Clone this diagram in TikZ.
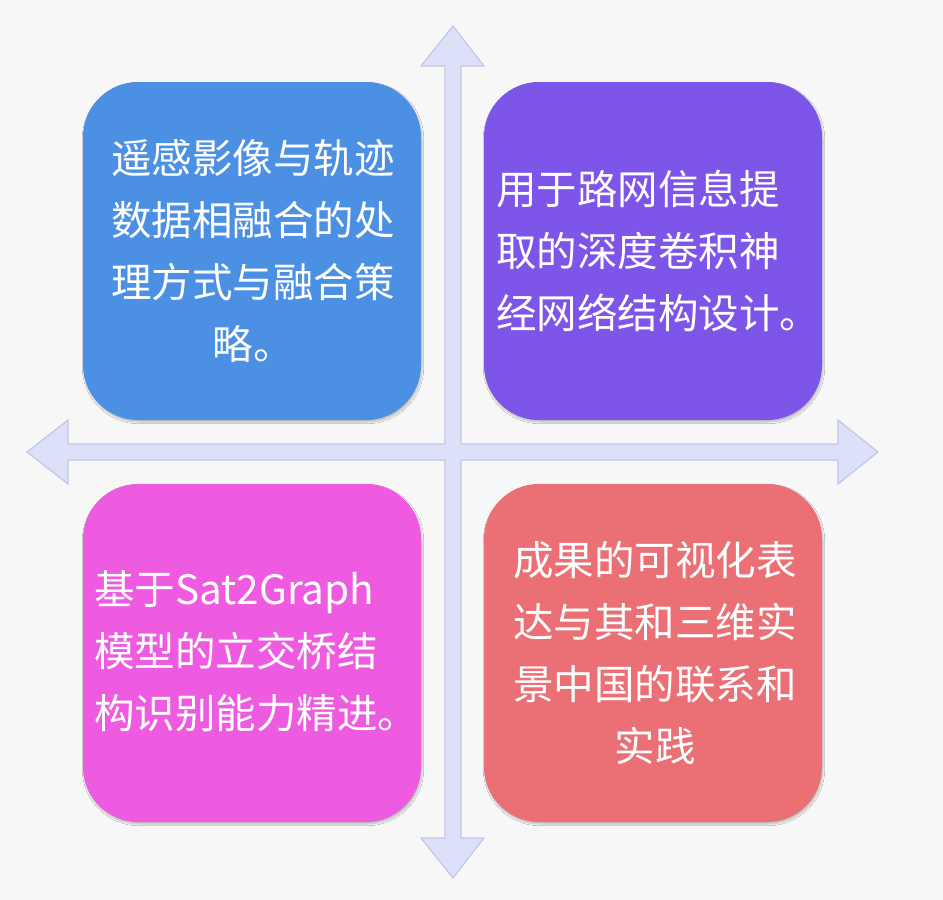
\documentclass[tikz,border=0pt]{standalone}
\usepackage{fontspec}
\newfontfamily\cjk{Noto Sans CJK SC}
\usetikzlibrary{shadows.blur}
\definecolor{bgc}{HTML}{F7F7F7}
\definecolor{bluebox}{HTML}{4C90E4}
\definecolor{purplebox}{HTML}{7D55E9}
\definecolor{magbox}{HTML}{EE5BE0}
\definecolor{redbox}{HTML}{EB7075}
\definecolor{arrowfill}{HTML}{DDE0F9}
\definecolor{arrowedge}{HTML}{C3C7E4}
\tikzset{
  quad/.style={rounded corners=55pt, blur shadow={shadow xshift=1pt, shadow yshift=-2pt, shadow blur steps=6, shadow opacity=25}},
  qtext/.style={text=white, inner sep=0pt, font=\cjk\fontsize{40.5}{62}\selectfont},
}
\begin{document}
\begin{tikzpicture}[x=1pt,y=-1pt]
\fill[bgc] (0,0) rectangle (943,900);
\useasboundingbox (0,0) rectangle (943,900);
% boxes
\fill[bluebox, quad] (83,82) rectangle (421,420);
\fill[purplebox, quad] (484,82) rectangle (822,420);
\fill[magbox, quad] (83,484) rectangle (421,822);
\fill[redbox, quad] (484,484) rectangle (822,822);
% cross arrows
\filldraw[fill=arrowfill, draw=arrowedge, line width=1.2pt, line join=miter]
  (453,26) -- (484,66) -- (461,66) -- (461,444) -- (838,444) -- (838,420) -- (878,452)
  -- (838,484) -- (838,460) -- (461,460) -- (461,838) -- (484,838) -- (453,878)
  -- (421,838) -- (445,838) -- (445,460) -- (68,460) -- (68,484) -- (27,452)
  -- (68,420) -- (68,444) -- (445,444) -- (445,66) -- (421,66) -- cycle;
% texts
\node[qtext, align=center] (tl) at (253,251) {遥感影像与轨迹\\数据相融合的处\\理方式与融合策\\略。};
\node[qtext, align=left, anchor=west] (tr) at (496,251) {用于路网信息提\\取的深度卷积神\\经网络结构设计。};
\node[qtext, align=left, anchor=west] (bl) at (94,651) {基于Sat2Graph\\模型的立交桥结\\构识别能力精进。};
\node[qtext, align=center] (br) at (655,653) {成果的可视化表\\达与其和三维实\\景中国的联系和\\实践};
\end{tikzpicture}
\end{document}
